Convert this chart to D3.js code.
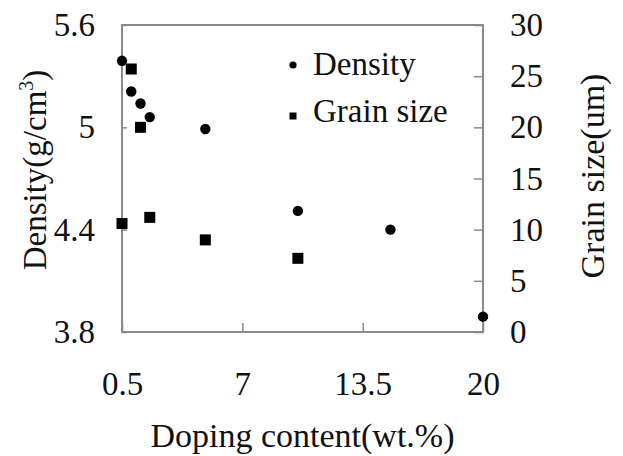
<!DOCTYPE html>
<html>
<head>
<meta charset="utf-8">
<script src="https://cdn.jsdelivr.net/npm/d3@7"></script>
<style>
  body { margin: 0; background: #fff; }
  svg text { font-family: "Liberation Serif", "Times New Roman", serif; fill: #111; }
</style>
</head>
<body>
<div id="chart"></div>
<script>
// data
const xDensity = [0.5, 1, 1.5, 2, 5, 10, 15, 20];
const density = [5.39, 5.21, 5.14, 5.06, 4.99, 4.51, 4.40, 3.89];
const xGrain = [0.5, 1, 1.5, 2, 5, 10];
const grainSize = [10.6, 25.7, 20.0, 11.2, 9.0, 7.2];

const xTicks = [0.5, 7, 13.5, 20];
const leftTicks = [3.8, 4.4, 5, 5.6];
const rightTicks = [0, 5, 10, 15, 20, 25, 30];

const width = 623, height = 456;
const margin = {top: 25, right: 140, bottom: 124, left: 122};
const fontSize = 33;

const svg = d3.select("#chart").append("svg")
    .attr("width", width)
    .attr("height", height);

const x = d3.scaleLinear().domain([0.5, 20]).range([margin.left, width - margin.right]);
const yL = d3.scaleLinear().domain([3.8, 5.6]).range([height - margin.bottom, margin.top]);
const yR = d3.scaleLinear().domain([0, 30]).range([height - margin.bottom, margin.top]);

const axisColor = "#8a8a8a";

// frame
svg.append("rect")
    .attr("x", x.range()[0])
    .attr("y", yL.range()[1])
    .attr("width", x.range()[1] - x.range()[0])
    .attr("height", yL.range()[0] - yL.range()[1])
    .attr("fill", "none")
    .attr("stroke", axisColor)
    .attr("stroke-width", 2);

// axes (ticks point inward)
const xAxis = svg.append("g")
    .attr("transform", "translate(0," + yL.range()[0] + ")")
    .call(d3.axisBottom(x).tickValues(xTicks).tickSizeInner(-9).tickSizeOuter(0).tickPadding(30)
        .tickFormat(d => d));

const leftAxis = svg.append("g")
    .attr("transform", "translate(" + x.range()[0] + ",0)")
    .call(d3.axisLeft(yL).tickValues(leftTicks).tickSizeInner(-5).tickSizeOuter(0).tickPadding(27)
        .tickFormat(d => d));

const rightAxis = svg.append("g")
    .attr("transform", "translate(" + x.range()[1] + ",0)")
    .call(d3.axisRight(yR).tickValues(rightTicks).tickSizeInner(-9).tickSizeOuter(0).tickPadding(27));

[xAxis, leftAxis, rightAxis].forEach(g => {
    g.select(".domain").remove();
    g.selectAll(".tick line").attr("stroke", axisColor).attr("stroke-width", 1.5);
    g.selectAll(".tick text")
        .attr("font-size", fontSize)
        .style("font-family", '"Liberation Serif", "Times New Roman", serif')
        .attr("fill", "#111");
});
xAxis.selectAll(".tick text").attr("dy", null).attr("y", 0)
    .attr("transform", "translate(0,63)");

// markers
svg.append("g")
    .selectAll("rect")
    .data(xGrain.map((v, i) => [v, grainSize[i]]))
    .join("rect")
    .attr("x", d => x(d[0]) - 5.5)
    .attr("y", d => yR(d[1]) - 5.5)
    .attr("width", 11)
    .attr("height", 11)
    .attr("fill", "#000");

svg.append("g")
    .selectAll("circle")
    .data(xDensity.map((v, i) => [v, density[i]]))
    .join("circle")
    .attr("cx", d => x(d[0]))
    .attr("cy", d => yL(d[1]))
    .attr("r", 5.2)
    .attr("fill", "#000");

// legend
const legend = svg.append("g");
legend.append("circle").attr("cx", 293).attr("cy", 65).attr("r", 3.6).attr("fill", "#000");
legend.append("text").attr("x", 313).attr("y", 75).attr("font-size", fontSize).text("Density");
legend.append("rect").attr("x", 289.5).attr("y", 112.5).attr("width", 7).attr("height", 7).attr("fill", "#000");
legend.append("text").attr("x", 313).attr("y", 122).attr("font-size", fontSize).text("Grain size");

// axis titles
svg.append("text")
    .attr("x", (x.range()[0] + x.range()[1]) / 2)
    .attr("y", 447)
    .attr("text-anchor", "middle")
    .attr("font-size", 34)
    .text("Doping content(wt.%)");

const yTitle = svg.append("text")
    .attr("transform", "translate(46,170) rotate(-90)")
    .attr("text-anchor", "middle")
    .attr("font-size", fontSize);
yTitle.append("tspan").text("Density(g/cm");
yTitle.append("tspan").attr("font-size", 20).attr("dy", -13).text("3");
yTitle.append("tspan").attr("dy", 13).text(")");

svg.append("text")
    .attr("transform", "translate(604,176) rotate(-90)")
    .attr("text-anchor", "middle")
    .attr("font-size", 34)
    .text("Grain size(um)");
</script>
</body>
</html>
